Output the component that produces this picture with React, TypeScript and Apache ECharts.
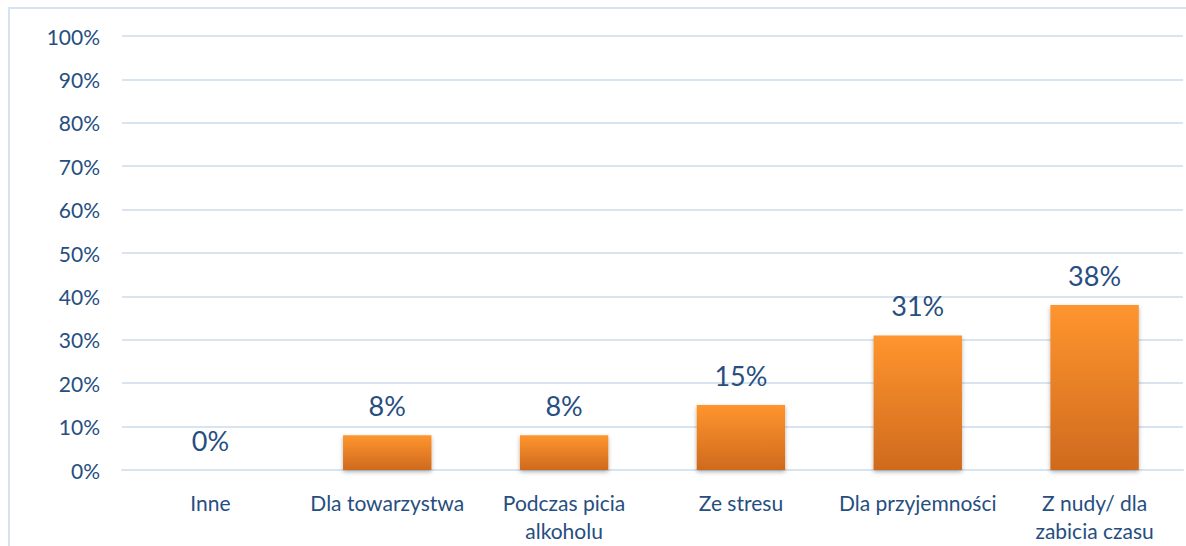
import React, { useEffect, useRef } from "react";
import * as echarts from "echarts";

const categories = [
  "Inne",
  "Dla towarzystwa",
  "Podczas picia\nalkoholu",
  "Ze stresu",
  "Dla przyjemności",
  "Z nudy/ dla\nzabicia czasu",
];
const values = [0, 8, 8, 15, 31, 38];
const yTicks = [0, 10, 20, 30, 40, 50, 60, 70, 80, 90, 100];

const textColor = "#264E80";
const gridColor = "#D9E4F1";

export default function App() {
  const ref = useRef<HTMLDivElement>(null);
  useEffect(() => {
    document.body.style.margin = "0";
    const chart = echarts.init(ref.current!, null, { renderer: "svg" });
    chart.setOption({
      animation: false,
      grid: { left: 122, right: 3, top: 36, bottom: 76 },
      graphic: [
        {
          type: "rect",
          shape: { x: 9, y: 8, width: 1200, height: 560 },
          style: { fill: "none", stroke: "#D6E3F0", lineWidth: 2 },
          silent: true,
        },
      ],
      xAxis: {
        type: "category",
        data: categories,
        axisTick: { show: false },
        axisLine: { lineStyle: { color: gridColor, width: 2 } },
        axisLabel: {
          color: textColor,
          fontFamily: "Lato",
          fontSize: 21,
          margin: 18,
          lineHeight: 28,
          interval: 0,
        },
      },
      yAxis: {
        type: "value",
        min: 0,
        max: 100,
        interval: 10,
        axisLabel: {
          color: textColor,
          fontFamily: "Lato",
          fontSize: 21,
          margin: 22,
          formatter: (v: number) => (yTicks.includes(v) ? v + "%" : ""),
        },
        splitLine: { lineStyle: { color: gridColor, width: 2 } },
        axisLine: { show: false },
        axisTick: { show: false },
      },
      series: [
        {
          type: "bar",
          data: values,
          barWidth: "50%",
          itemStyle: {
            color: new echarts.graphic.LinearGradient(0, 0, 0, 1, [
              { offset: 0, color: "#FF952E" },
              { offset: 1, color: "#CF6A1E" },
            ]),
            shadowColor: "rgba(0,0,0,0.3)",
            shadowBlur: 4,
            shadowOffsetY: 2,
          },
          label: {
            show: true,
            position: "top",
            distance: 16,
            color: textColor,
            fontFamily: "Lato",
            fontSize: 27,
            formatter: (p: any) => p.value + "%",
          },
        },
      ],
    });
    return () => chart.dispose();
  }, []);
  return <div ref={ref} style={{ width: 1186, height: 546 }} />;
}
